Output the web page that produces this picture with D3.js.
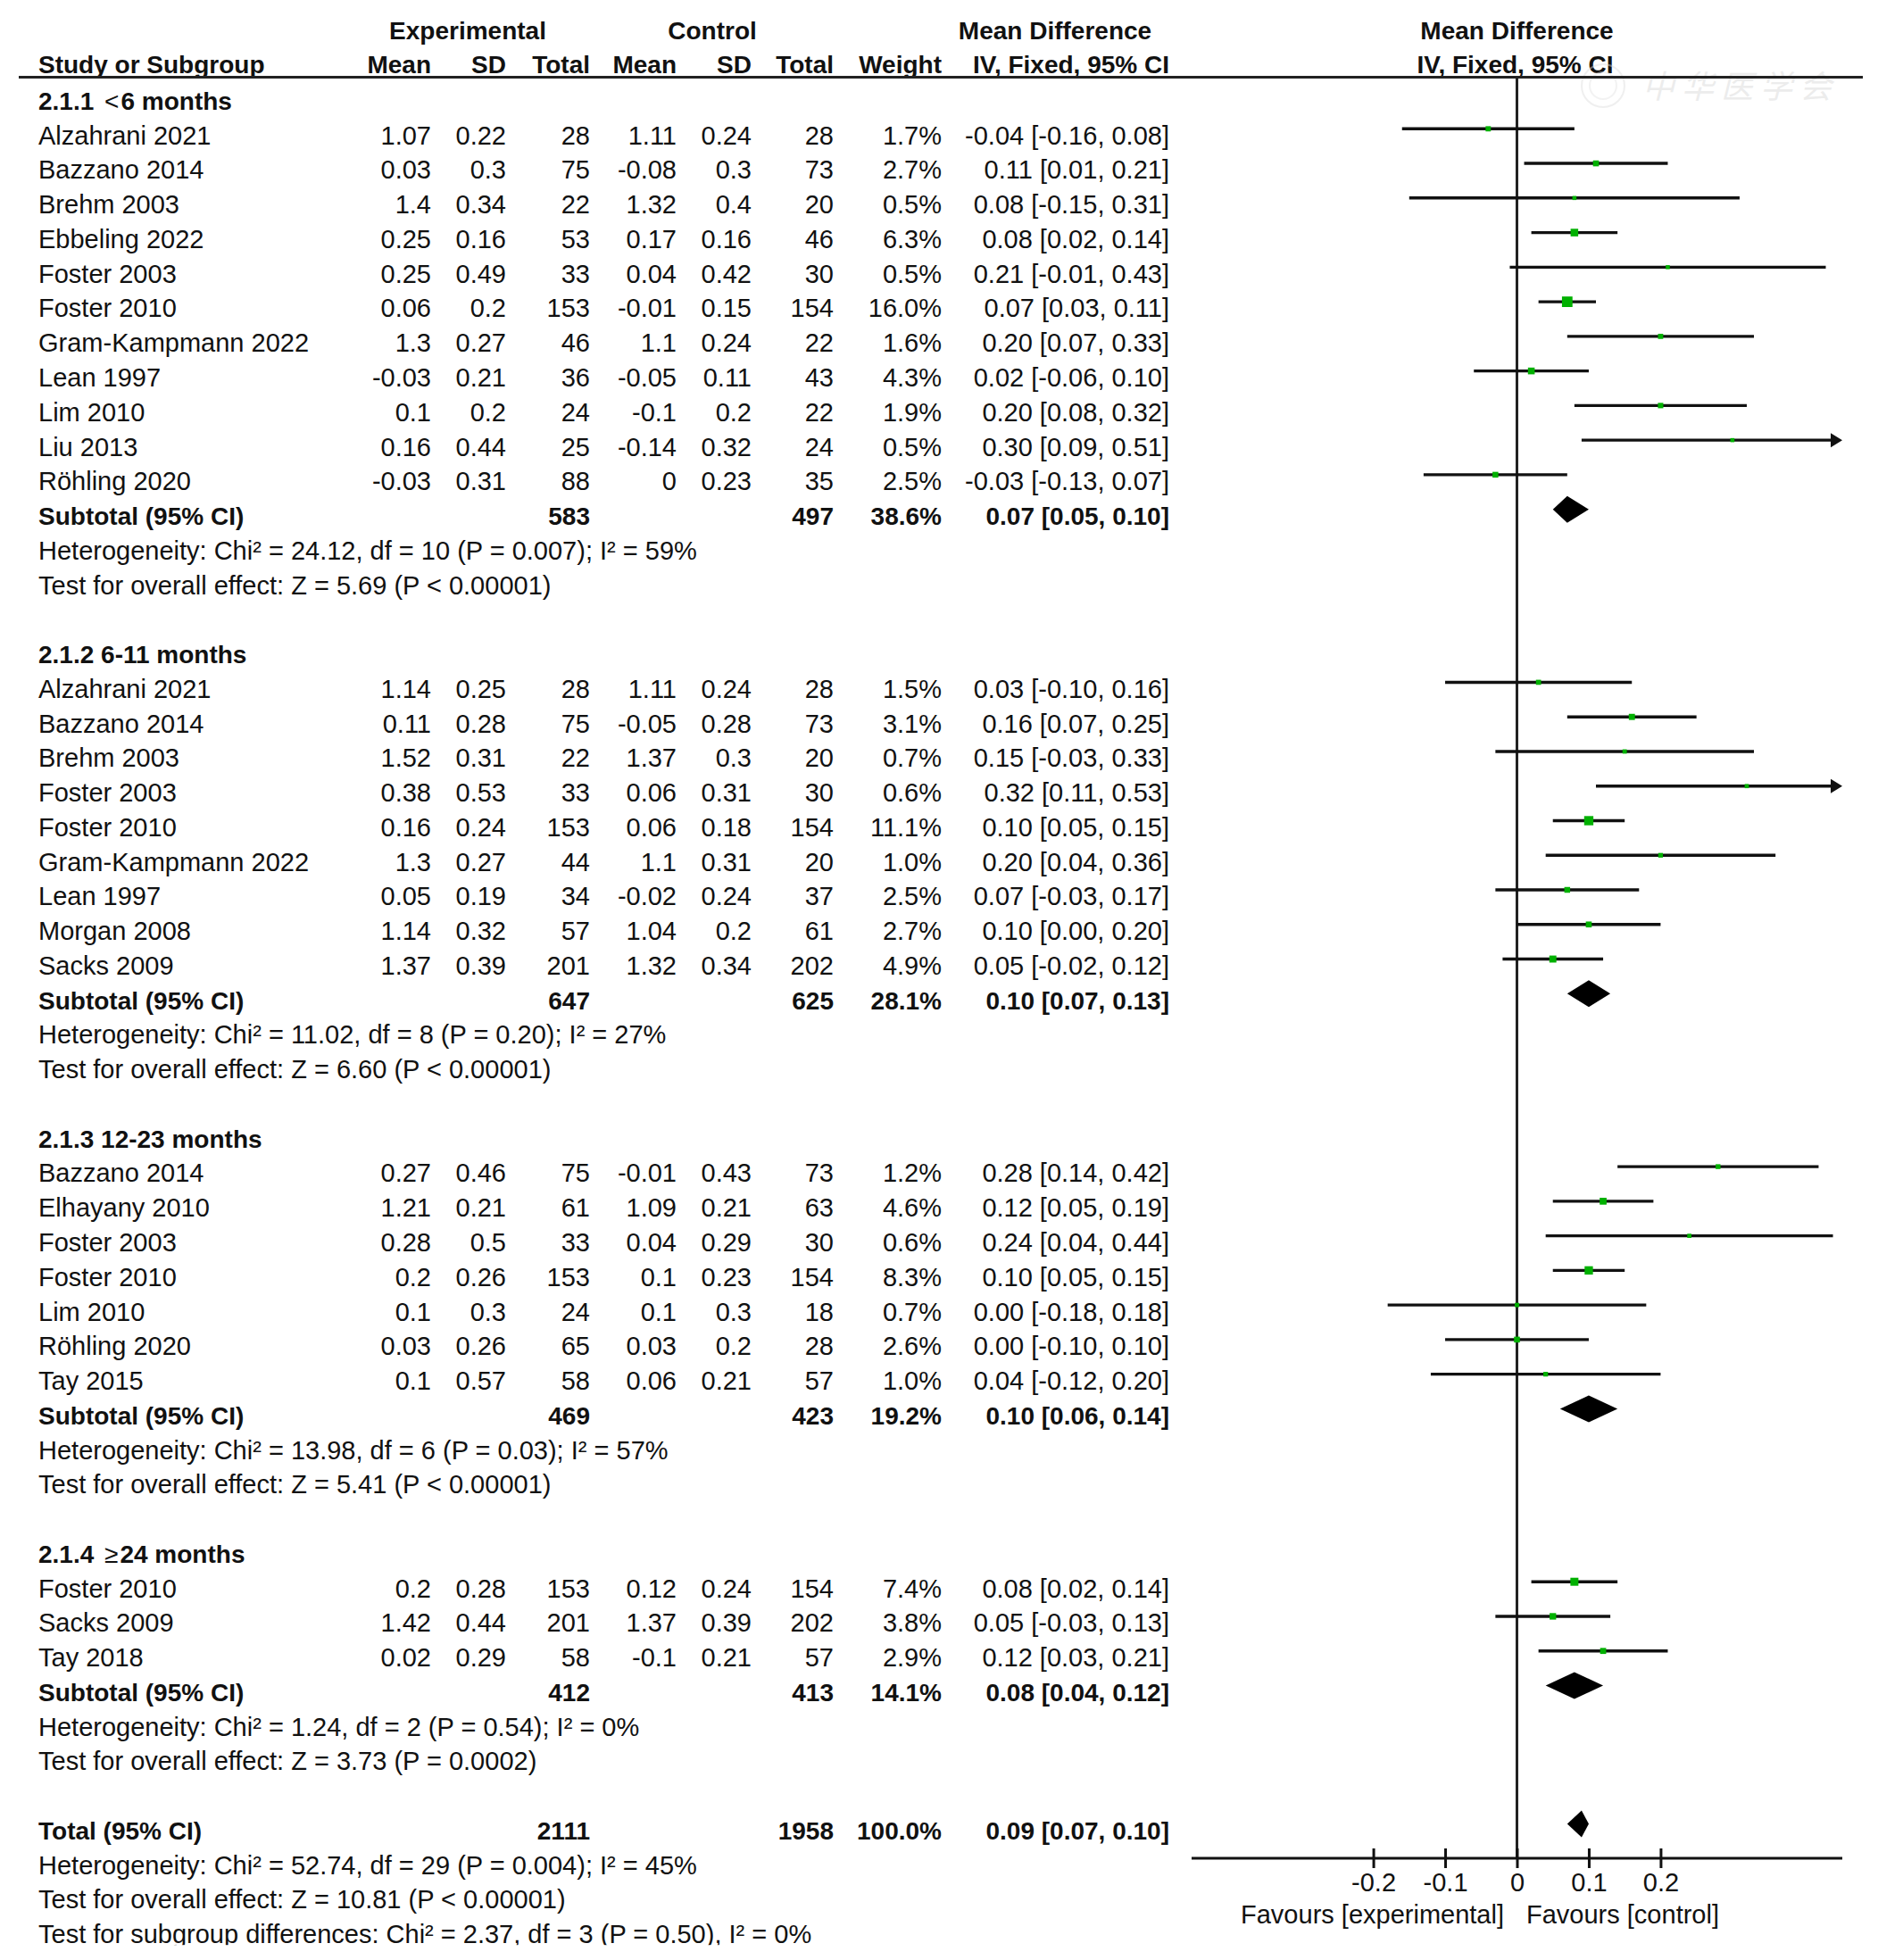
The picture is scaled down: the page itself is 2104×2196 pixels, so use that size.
<!DOCTYPE html>
<html><head><meta charset="utf-8">
<script src="https://cdn.jsdelivr.net/npm/d3@7"></script>
<style>
html,body{margin:0;padding:0;background:#fff;}
svg text{font-family:"Liberation Sans",Arial,Helvetica,sans-serif;font-size:29px;fill:#111;}
svg text.b{font-weight:bold;font-size:28px;}
</style>
</head><body>
<svg id="chart" width="2104" height="2196"></svg>
<script>
// ---------- DATA ----------
const groupTitles = ["2.1.1 <6 months", "2.1.2 6-11 months", "2.1.3 12-23 months", "2.1.4 \u226524 months"];
// [study, expMean, expSD, expTotal, ctlMean, ctlSD, ctlTotal, weight%, MD, lower, upper]
const group1 = [
  ["Alzahrani 2021", 1.07, 0.22, 28, 1.11, 0.24, 28, 1.7, -0.04, -0.16, 0.08],
  ["Bazzano 2014", 0.03, 0.3, 75, -0.08, 0.3, 73, 2.7, 0.11, 0.01, 0.21],
  ["Brehm 2003", 1.4, 0.34, 22, 1.32, 0.4, 20, 0.5, 0.08, -0.15, 0.31],
  ["Ebbeling 2022", 0.25, 0.16, 53, 0.17, 0.16, 46, 6.3, 0.08, 0.02, 0.14],
  ["Foster 2003", 0.25, 0.49, 33, 0.04, 0.42, 30, 0.5, 0.21, -0.01, 0.43],
  ["Foster 2010", 0.06, 0.2, 153, -0.01, 0.15, 154, 16.0, 0.07, 0.03, 0.11],
  ["Gram-Kampmann 2022", 1.3, 0.27, 46, 1.1, 0.24, 22, 1.6, 0.20, 0.07, 0.33],
  ["Lean 1997", -0.03, 0.21, 36, -0.05, 0.11, 43, 4.3, 0.02, -0.06, 0.10],
  ["Lim 2010", 0.1, 0.2, 24, -0.1, 0.2, 22, 1.9, 0.20, 0.08, 0.32],
  ["Liu 2013", 0.16, 0.44, 25, -0.14, 0.32, 24, 0.5, 0.30, 0.09, 0.51],
  ["R\u00f6hling 2020", -0.03, 0.31, 88, 0, 0.23, 35, 2.5, -0.03, -0.13, 0.07]
];
const group2 = [
  ["Alzahrani 2021", 1.14, 0.25, 28, 1.11, 0.24, 28, 1.5, 0.03, -0.10, 0.16],
  ["Bazzano 2014", 0.11, 0.28, 75, -0.05, 0.28, 73, 3.1, 0.16, 0.07, 0.25],
  ["Brehm 2003", 1.52, 0.31, 22, 1.37, 0.3, 20, 0.7, 0.15, -0.03, 0.33],
  ["Foster 2003", 0.38, 0.53, 33, 0.06, 0.31, 30, 0.6, 0.32, 0.11, 0.53],
  ["Foster 2010", 0.16, 0.24, 153, 0.06, 0.18, 154, 11.1, 0.10, 0.05, 0.15],
  ["Gram-Kampmann 2022", 1.3, 0.27, 44, 1.1, 0.31, 20, 1.0, 0.20, 0.04, 0.36],
  ["Lean 1997", 0.05, 0.19, 34, -0.02, 0.24, 37, 2.5, 0.07, -0.03, 0.17],
  ["Morgan 2008", 1.14, 0.32, 57, 1.04, 0.2, 61, 2.7, 0.10, 0.00, 0.20],
  ["Sacks 2009", 1.37, 0.39, 201, 1.32, 0.34, 202, 4.9, 0.05, -0.02, 0.12]
];
const group3 = [
  ["Bazzano 2014", 0.27, 0.46, 75, -0.01, 0.43, 73, 1.2, 0.28, 0.14, 0.42],
  ["Elhayany 2010", 1.21, 0.21, 61, 1.09, 0.21, 63, 4.6, 0.12, 0.05, 0.19],
  ["Foster 2003", 0.28, 0.5, 33, 0.04, 0.29, 30, 0.6, 0.24, 0.04, 0.44],
  ["Foster 2010", 0.2, 0.26, 153, 0.1, 0.23, 154, 8.3, 0.10, 0.05, 0.15],
  ["Lim 2010", 0.1, 0.3, 24, 0.1, 0.3, 18, 0.7, 0.00, -0.18, 0.18],
  ["R\u00f6hling 2020", 0.03, 0.26, 65, 0.03, 0.2, 28, 2.6, 0.00, -0.10, 0.10],
  ["Tay 2015", 0.1, 0.57, 58, 0.06, 0.21, 57, 1.0, 0.04, -0.12, 0.20]
];
const group4 = [
  ["Foster 2010", 0.2, 0.28, 153, 0.12, 0.24, 154, 7.4, 0.08, 0.02, 0.14],
  ["Sacks 2009", 1.42, 0.44, 201, 1.37, 0.39, 202, 3.8, 0.05, -0.03, 0.13],
  ["Tay 2018", 0.02, 0.29, 58, -0.1, 0.21, 57, 2.9, 0.12, 0.03, 0.21]
];
// [expTotal, ctlTotal, weight%, MD, lower, upper]
const subtotals = [
  [583, 497, 38.6, 0.07, 0.05, 0.10],
  [647, 625, 28.1, 0.10, 0.07, 0.13],
  [469, 423, 19.2, 0.10, 0.06, 0.14],
  [412, 413, 14.1, 0.08, 0.04, 0.12]
];
const heterogeneityText = [
  "Heterogeneity: Chi\u00b2 = 24.12, df = 10 (P = 0.007); I\u00b2 = 59%",
  "Heterogeneity: Chi\u00b2 = 11.02, df = 8 (P = 0.20); I\u00b2 = 27%",
  "Heterogeneity: Chi\u00b2 = 13.98, df = 6 (P = 0.03); I\u00b2 = 57%",
  "Heterogeneity: Chi\u00b2 = 1.24, df = 2 (P = 0.54); I\u00b2 = 0%"
];
const overallEffectText = [
  "Test for overall effect: Z = 5.69 (P < 0.00001)",
  "Test for overall effect: Z = 6.60 (P < 0.00001)",
  "Test for overall effect: Z = 5.41 (P < 0.00001)",
  "Test for overall effect: Z = 3.73 (P = 0.0002)"
];
const totalRow = [2111, 1958, 100.0, 0.09, 0.07, 0.10];
const totalNotes = [
  "Heterogeneity: Chi\u00b2 = 52.74, df = 29 (P = 0.004); I\u00b2 = 45%",
  "Test for overall effect: Z = 10.81 (P < 0.00001)",
  "Test for subgroup differences: Chi\u00b2 = 2.37, df = 3 (P = 0.50), I\u00b2 = 0%"
];
const axisTicks = [-0.2, -0.1, 0, 0.1, 0.2];
const axisDomain = [-0.453, 0.453];
const headerTop = ["Experimental", "Control", "Mean Difference"];
const headerCols = ["Mean", "SD", "Total", "Mean", "SD", "Total", "Weight", "IV, Fixed, 95% CI"];

// ---------- LAYOUT ----------
const svg = d3.select("#chart");
svg.append("rect").attr("width", 2104).attr("height", 2196).attr("fill", "#fff");
const groups = [group1, group2, group3, group4];
const colRight = [483, 567, 661, 758, 842, 934, 1055, 1310];
const nameX = 43;
const x = d3.scaleLinear().domain(axisDomain).range([1335, 2064]);
const y = d3.scaleLinear().domain([0, 52]).range([151.3, 2166.8]); // row centre (cap middle)
const BASE = 10.4;   // cap middle -> baseline
const MARK = -7;     // cap middle -> marker line
const rowTop = 86.5, axisY = 2082;

// build rows
const rows = [];
let idx = -1;
groups.forEach((g, gi) => {
  rows.push({type: "title", i: idx, text: groupTitles[gi]}); idx++;
  g.forEach(s => { rows.push({type: "study", i: idx, d: s}); idx++; });
  rows.push({type: "subtotal", i: idx, label: "Subtotal (95% CI)", d: subtotals[gi]}); idx++;
  rows.push({type: "note", i: idx, text: heterogeneityText[gi]}); idx++;
  rows.push({type: "note", i: idx, text: overallEffectText[gi]}); idx++;
  idx++;
});
rows.push({type: "subtotal", i: idx, label: "Total (95% CI)", d: totalRow}); idx++;
totalNotes.forEach(t => { rows.push({type: "note", i: idx, text: t}); idx++; });

const fmtNum = v => String(v);
const fmtW = v => v.toFixed(1) + "%";
const fmtCI = (m, l, h) => `${m.toFixed(2)} [${l.toFixed(2)}, ${h.toFixed(2)}]`;

// ---------- HEADER ----------
const hdr = svg.append("g");
const topCentres = [524, 798, 1182];
hdr.selectAll("text.top").data(headerTop).join("text").attr("class", "b top")
  .attr("x", (d, i) => topCentres[i]).attr("y", 44).attr("text-anchor", "middle").text(d => d);
hdr.append("text").attr("class", "b").attr("x", nameX).attr("y", 81.5).text("Study or Subgroup");
hdr.selectAll("text.col").data(headerCols).join("text").attr("class", "b col")
  .attr("x", (d, i) => colRight[i]).attr("y", 81.5).attr("text-anchor", "end").text(d => d);
hdr.append("text").attr("class", "b").attr("x", x(0)).attr("y", 44).attr("text-anchor", "middle").text("Mean Difference");
hdr.append("text").attr("class", "b").attr("x", x(0) - 2).attr("y", 81.5).attr("text-anchor", "middle").text("IV, Fixed, 95% CI");

// watermark
const wm = svg.append("g").attr("opacity", 0.45);
wm.append("circle").attr("cx", 1796).attr("cy", 96).attr("r", 24).attr("fill", "none").attr("stroke", "#ddd").attr("stroke-width", 2);
wm.append("circle").attr("cx", 1796).attr("cy", 96).attr("r", 15).attr("fill", "none").attr("stroke", "#e4e4e4").attr("stroke-width", 2);
wm.append("text").attr("x", 1840).attr("y", 110).attr("font-style", "italic")
  .style("font-family", "'Noto Sans CJK SC'").style("font-size", "36px").style("fill", "#d6d6d6")
  .attr("letter-spacing", 8).text("中华医学会");

// header rule
svg.append("line").attr("x1", 21).attr("x2", 2087).attr("y1", rowTop).attr("y2", rowTop)
  .attr("stroke", "#222").attr("stroke-width", 3);

// ---------- TABLE TEXT ----------
const body = svg.append("g");
rows.forEach(r => {
  const yb = y(r.i) + BASE;
  if (r.type === "title") {
    const t = body.append("text").attr("class", "b").attr("x", nameX).attr("y", yb);
    const m = r.text.match(/^(\S+ )([<\u2265])(.*)$/);
    if (m) {
      t.append("tspan").text(m[1]);
      t.append("tspan").style("font-weight", "normal").attr("dx", 4).text(m[2]);
      t.append("tspan").attr("dx", 2).text(m[3]);
    } else t.text(r.text);
  } else if (r.type === "note") {
    body.append("text").attr("x", nameX).attr("y", yb).text(r.text);
  } else if (r.type === "study") {
    const d = r.d;
    const vals = [fmtNum(d[1]), fmtNum(d[2]), fmtNum(d[3]), fmtNum(d[4]), fmtNum(d[5]), fmtNum(d[6]), fmtW(d[7]), fmtCI(d[8], d[9], d[10])];
    body.append("text").attr("x", nameX).attr("y", yb).text(d[0]);
    body.selectAll(null).data(vals).join("text")
      .attr("x", (v, i) => colRight[i]).attr("y", yb).attr("text-anchor", "end").text(v => v);
  } else if (r.type === "subtotal") {
    const d = r.d;
    const cells = [[2, d[0]], [5, d[1]], [6, fmtW(d[2])], [7, fmtCI(d[3], d[4], d[5])]];
    body.append("text").attr("class", "b").attr("x", nameX).attr("y", yb).text(r.label);
    body.selectAll(null).data(cells).join("text").attr("class", "b")
      .attr("x", c => colRight[c[0]]).attr("y", yb).attr("text-anchor", "end").text(c => c[1]);
  }
});

// ---------- FOREST PLOT ----------
const plot = svg.append("g");
plot.append("line").attr("x1", x(0)).attr("x2", x(0)).attr("y1", rowTop).attr("y2", axisY)
  .attr("stroke", "#222").attr("stroke-width", 3);

const [dmin, dmax] = axisDomain;
rows.filter(r => r.type === "study").forEach(r => {
  const d = r.d, ym = y(r.i) + MARK;
  const lo = Math.max(d[9], dmin), hi = Math.min(d[10], dmax);
  const arrowR = d[10] > dmax;
  plot.append("line").attr("x1", x(lo)).attr("x2", arrowR ? x(hi) - 6 : x(hi))
    .attr("y1", ym).attr("y2", ym).attr("stroke", "#111").attr("stroke-width", 3.4);
  if (arrowR) {
    const xe = x(hi);
    plot.append("path").attr("d", `M${xe - 13},${ym - 8}L${xe},${ym}L${xe - 13},${ym + 8}Z`).attr("fill", "#111");
  }
  const s = 3 + 2.2 * Math.sqrt(d[7]);
  plot.append("rect").attr("x", x(d[8]) - s / 2).attr("y", ym - s / 2)
    .attr("width", s).attr("height", s).attr("fill", "#00b000");
});

rows.filter(r => r.type === "subtotal").forEach(r => {
  const d = r.d, ym = y(r.i) + MARK, h = 15;
  plot.append("path")
    .attr("d", `M${x(d[4])},${ym}L${x(d[3])},${ym - h}L${x(d[5])},${ym}L${x(d[3])},${ym + h}Z`)
    .attr("fill", "#000");
});

// axis
const axis = d3.axisBottom(x).tickValues(axisTicks).tickFormat(v => String(v)).tickSize(11).tickPadding(6);
const ag = plot.append("g").attr("transform", `translate(0,${axisY})`).call(axis);
ag.select(".domain").attr("d", `M${x(dmin)},0H${x(dmax)}`).attr("stroke", "#111").attr("stroke-width", 3);
ag.selectAll(".tick line").attr("y1", -11).attr("y2", 11).attr("stroke", "#111").attr("stroke-width", 3);
ag.selectAll(".tick text").attr("y", 16).attr("dy", "0.71em")
  .style("font-size", "29px").style("font-family", "'Liberation Sans',Arial,sans-serif").attr("fill", "#111");

plot.append("text").attr("x", 1685).attr("y", 2155).attr("text-anchor", "end").text("Favours [experimental]");
plot.append("text").attr("x", 1710).attr("y", 2155).attr("text-anchor", "start").text("Favours [control]");

// bottom crop as in the source image
svg.append("rect").attr("x", 0).attr("y", y(52) + BASE + 2).attr("width", 2104).attr("height", 40).attr("fill", "#fff");
</script>
</body></html>
